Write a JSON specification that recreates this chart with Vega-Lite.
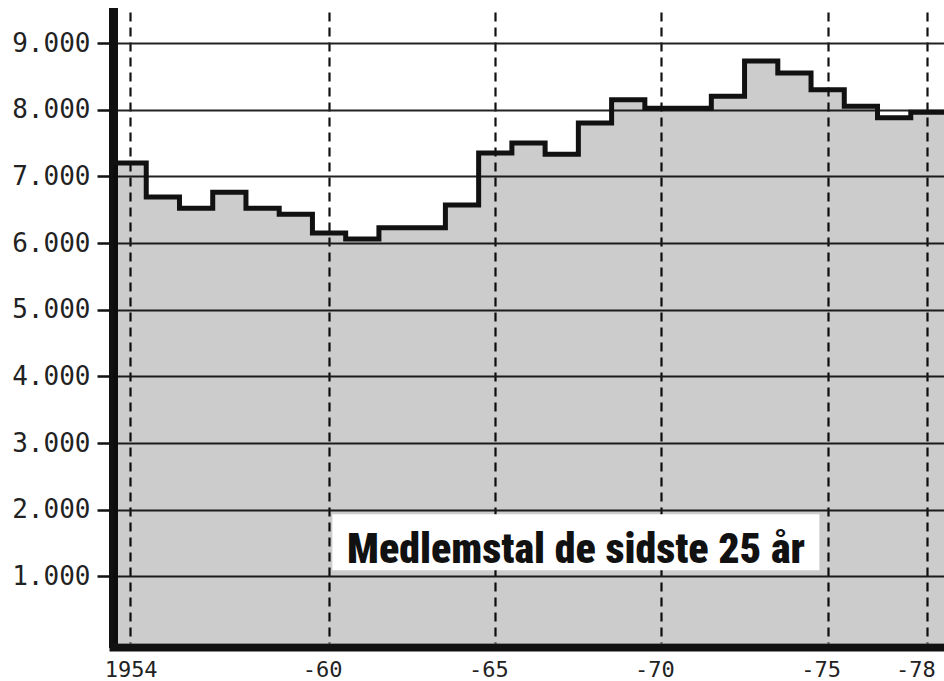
{
  "$schema": "https://vega.github.io/schema/vega-lite/v6.json",
  "autosize": {"type": "none"},
  "padding": {"left": 113, "top": 12, "right": 0, "bottom": 38},
  "width": 831,
  "height": 631,
  "background": "white",
  "config": {"view": {"stroke": null}},
  "data": {
    "values": [
      {"year": 1954, "members": 7200},
      {"year": 1955, "members": 6690},
      {"year": 1956, "members": 6520},
      {"year": 1957, "members": 6760},
      {"year": 1958, "members": 6520},
      {"year": 1959, "members": 6430},
      {"year": 1960, "members": 6150},
      {"year": 1961, "members": 6060},
      {"year": 1962, "members": 6230},
      {"year": 1963, "members": 6230},
      {"year": 1964, "members": 6570},
      {"year": 1965, "members": 7350},
      {"year": 1966, "members": 7500},
      {"year": 1967, "members": 7330},
      {"year": 1968, "members": 7800},
      {"year": 1969, "members": 8150},
      {"year": 1970, "members": 8020},
      {"year": 1971, "members": 8020},
      {"year": 1972, "members": 8200},
      {"year": 1973, "members": 8730},
      {"year": 1974, "members": 8550},
      {"year": 1975, "members": 8300},
      {"year": 1976, "members": 8050},
      {"year": 1977, "members": 7880},
      {"year": 1978, "members": 7960}
    ]
  },
  "transform": [
    {"calculate": "datum.year - 0.5", "as": "x0"},
    {"calculate": "datum.year + 0.5", "as": "x1"},
    {"fold": ["x0", "x1"], "as": ["edge", "xpos"]},
    {"calculate": "datum.year * 2 + (datum.edge == 'x1' ? 1 : 0)", "as": "ord"}
  ],
  "layer": [
    {
      "mark": {"type": "area", "fill": "black", "fillOpacity": 0.2, "interpolate": "linear"},
      "encoding": {
        "x": {
          "field": "xpos", "type": "quantitative",
          "scale": {"domain": [1953.5, 1978.5], "nice": false, "zero": false},
          "axis": {
            "values": [1954, 1960, 1965, 1970, 1975, 1978],
            "title": null,
            "offset": 4,
            "domain": true, "domainColor": "#111", "domainWidth": 8, "domainCap": "square",
            "ticks": false, "tickSize": 0,
            "grid": true, "gridColor": "#111", "gridWidth": 2.2, "gridDash": [9, 6],
            "labelFont": "DejaVu Sans Mono", "labelFontSize": 22, "labelColor": "#222",
            "labelPadding": 12, "labelBaseline": "top", "labelAlign": "center",
            "labelOffset": {"condition": [{"test": "datum.value == 1954", "value": 1}, {"test": "datum.value == 1978", "value": -12}], "value": -7},
            "labelExpr": "datum.value == 1954 ? '1954' : '-' + substring(toString(datum.value), 2)",
            "labelOverlap": false, "labelFlush": false
          }
        },
        "y": {
          "field": "members", "type": "quantitative", "stack": null,
          "scale": {"domain": [0, 9465], "nice": false},
          "axis": {
            "values": [1000, 2000, 3000, 4000, 5000, 6000, 7000, 8000, 9000],
            "title": null,
            "domain": true, "domainColor": "#111", "domainWidth": 9, "domainCap": "square",
            "ticks": true, "tickSize": 16, "tickWidth": 2.5, "tickColor": "#111",
            "grid": true, "gridColor": "#222", "gridWidth": 2,
            "labelFont": "DejaVu Sans Mono", "labelFontSize": 26, "labelColor": "#222",
            "labelPadding": 7, "labelBaseline": "middle",
            "labelExpr": "replace(format(datum.value, ','), ',', '.')"
          }
        }
      }
    },
    {
      "mark": {"type": "line", "stroke": "#111", "strokeWidth": 5, "strokeJoin": "miter", "interpolate": "linear"},
      "encoding": {
        "x": {"field": "xpos", "type": "quantitative"},
        "y": {"field": "members", "type": "quantitative"},
        "order": {"field": "ord", "type": "quantitative"}
      }
    },
    {
      "data": {"values": [{"label": "Medlemstal de sidste 25 år"}]},
      "mark": {"type": "rect", "fill": "white", "stroke": null},
      "encoding": {
        "x": {"datum": 1960.1, "type": "quantitative"},
        "x2": {"datum": 1974.75},
        "y": {"datum": 1090, "type": "quantitative"},
        "y2": {"datum": 1930}
      }
    },
    {
      "data": {"values": [{"label": "Medlemstal de sidste 25 år"}]},
      "mark": {"type": "text", "font": "Roboto Condensed, DejaVu Sans Condensed", "fontWeight": 900, "fontSize": 42, "color": "#111", "align": "center", "baseline": "alphabetic"},
      "encoding": {
        "x": {"datum": 1967.43, "type": "quantitative"},
        "y": {"datum": 1200, "type": "quantitative"},
        "text": {"field": "label"}
      }
    }
  ]
}
